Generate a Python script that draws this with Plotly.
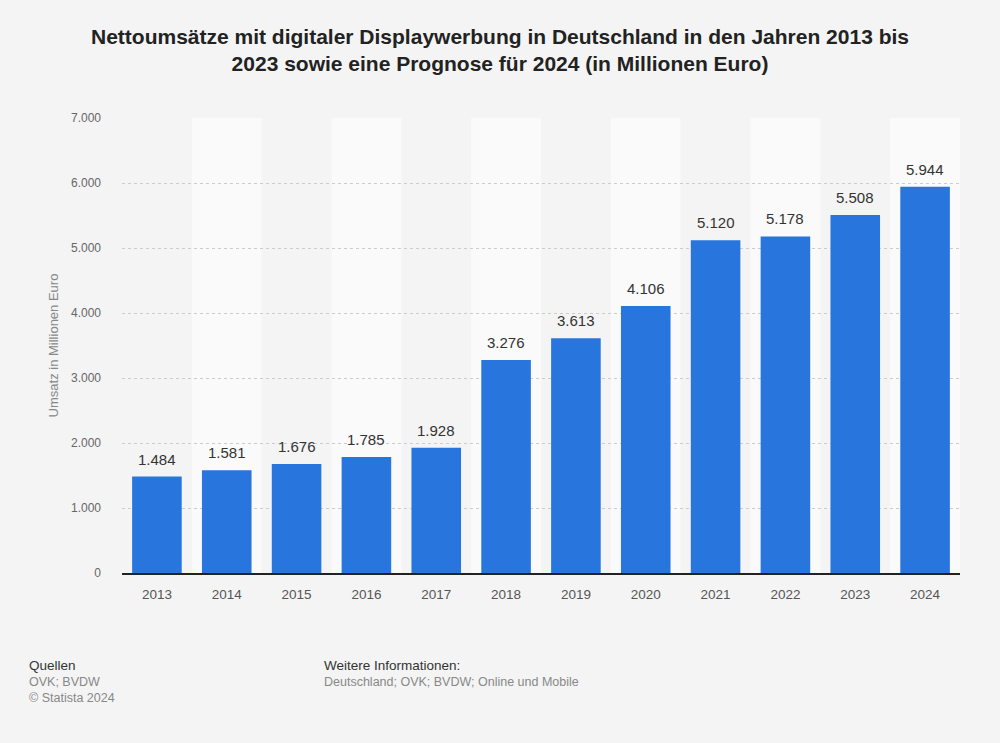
import plotly.graph_objects as go

years = ["2013", "2014", "2015", "2016", "2017", "2018", "2019", "2020", "2021", "2022", "2023", "2024"]
values = [1484, 1581, 1676, 1785, 1928, 3276, 3613, 4106, 5120, 5178, 5508, 5944]
labels = ["1.484", "1.581", "1.676", "1.785", "1.928", "3.276", "3.613", "4.106", "5.120", "5.178", "5.508", "5.944"]
tick_vals = [0, 1000, 2000, 3000, 4000, 5000, 6000, 7000]
tick_text = ["0", "1.000", "2.000", "3.000", "4.000", "5.000", "6.000", "7.000"]

FONT = "Liberation Sans, Arial"
W, H = 1000, 743
ML, MR, MT, MB = 122, 40, 118, 170

fig = go.Figure()
fig.add_trace(go.Bar(
    x=list(range(len(years))), y=values,
    marker_color="#2775dd", marker_line_width=0,
    hoverinfo="skip",
))

for i, (v, t) in enumerate(zip(values, labels)):
    fig.add_annotation(
        x=i, y=v, xref="x", yref="y", text=t, showarrow=False,
        yanchor="bottom", yshift=7,
        font=dict(family=FONT, size=15, color="#333333"),
    )

shapes = []
for i in range(len(years)):
    if i % 2 == 1:
        shapes.append(dict(type="rect", xref="x", yref="paper", x0=i - 0.5, x1=i + 0.5, y0=0, y1=1,
                           fillcolor="#fafafa", line_width=0, layer="below"))

fig.update_layout(
    width=W, height=H,
    paper_bgcolor="#f4f4f4", plot_bgcolor="#f4f4f4",
    margin=dict(l=ML, r=MR, t=MT, b=MB),
    bargap=0.29,
    showlegend=False,
    shapes=shapes,
    font=dict(family=FONT, color="#666666"),
    title=dict(
        text="<b>Nettoumsätze mit digitaler Displaywerbung in Deutschland in den Jahren 2013 bis<br>2023 sowie eine Prognose für 2024 (in Millionen Euro)</b>",
        x=0.5, xanchor="center", y=0.941, yanchor="top",
        font=dict(family=FONT, size=21, color="#222222"),
    ),
    xaxis=dict(
        tickmode="array", tickvals=list(range(len(years))), ticktext=years,
        range=[-0.5, len(years) - 0.5],
        showgrid=False, showline=True, linecolor="#222222", linewidth=1.5,
        ticks="", tickfont=dict(size=13.5, color="#555555"),
        ticklabelstandoff=8,
        zeroline=False,
    ),
    yaxis=dict(
        range=[0, 7000], tickvals=tick_vals, ticktext=tick_text,
        showgrid=True, gridcolor="#cccccc", griddash="dot", gridwidth=1,
        zeroline=False, ticks="", ticklabelstandoff=20,
        tickfont=dict(size=12, color="#666666"),
        title=dict(text="Umsatz in Millionen Euro", font=dict(size=13, color="#888888"), standoff=9),
    ),
)

footer = [
    dict(text="Quellen", x=29, y=665, size=13.5, color="#333333"),
    dict(text="OVK; BVDW", x=29, y=682, size=12.5, color="#888888"),
    dict(text="© Statista 2024", x=29, y=698, size=12.5, color="#888888"),
    dict(text="Weitere Informationen:", x=324, y=665, size=13.5, color="#333333"),
    dict(text="Deutschland; OVK; BVDW; Online und Mobile", x=324, y=682, size=12.5, color="#888888"),
]
for f in footer:
    fig.add_annotation(
        text=f["text"], xref="paper", yref="paper",
        x=(f["x"] - ML - 2) / (W - ML - MR), y=1 - (f["y"] - MT) / (H - MT - MB),
        xanchor="left", yanchor="middle", showarrow=False, align="left",
        font=dict(family=FONT, size=f["size"], color=f["color"]),
    )

fig.write_html(
    "out.html",
    config={"displayModeBar": False},
    post_script="document.body.style.margin='0';document.body.style.background='#f4f4f4';document.body.style.overflow='hidden';",
)
